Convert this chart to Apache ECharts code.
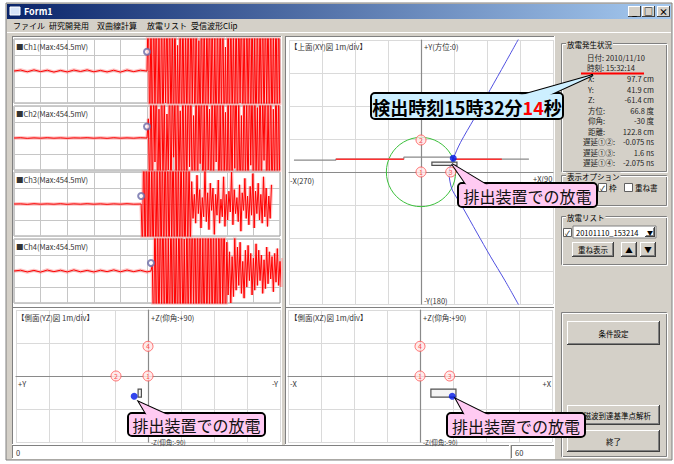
<!DOCTYPE html>
<html>
<head>
<meta charset="utf-8">
<title>Form1</title>
<script src="https://cdn.jsdelivr.net/npm/echarts@6.0.0/dist/echarts.min.js"></script>
<style>
html,body{margin:0;padding:0;background:#ffffff;}
#chart{width:674px;height:464px;}
</style>
</head>
<body>
<div id="chart"></div>
<script>
// ---------- received waveforms (mV) ----------
const channelNames = ['Ch1', 'Ch2', 'Ch3', 'Ch4'];
const channelMaxMv = [454.5, 454.5, 454.5, 454.5];
const triggerTimes = [500, 500, 478, 515];
const triggerMarkMv = [120, 72, 50, 50];
const preStep = 25;
const postStep = 5;

const pre1 = [0, 6, -5, 7, -4, 5, -7, 4, -6, 6, -3, 7, -5, 4, -6, 5, -7, 6, -4, 5];
const pre2 = [0, 2, -2, 1, -1, 2, -1, 1, -2, 1, 0, 2, -1, 1, -2, 2, -1, 1, -1, 2];
const pre3 = [0, 1, -2, 2, -1, 1, -1, 2, -2, 1, -1, 2, -1, 1, -2, 1, -1, 2, -1];
const pre4 = [0, 5, -6, 4, -7, 6, -4, 5, -6, 7, -5, 4, -6, 5, -4, 7, -5, 6, -4, 5, -6];

const post1 = [0, 460, -450, 380, -470, 450, -300, 470, -460, 250, -440, 460, -470, 350, -200, 450, -460, 470, -380, 300, -460,
  450, -470, 160, -420, 470, -450, 430, -460, 280, -350, 460, -470, 450, -220, 380, -460, 470, -440, 190, -400,
  460, -470, 420, -460, 330, -250, 470, -450, 460, -380, 210, -470, 450, -460, 390, -300, 470, -440, 150, -460,
  460, -470, 440, -330, 260, -450, 470, -460, 400, -200, 470, -450, 350, -470, 460, -280, 420, -460, 470, -390,
  230, -450, 460, -470, 380, -320, 470, -440, 460, -250, 410, -470, 450, -460, 300, -380, 470, -450, 460, -420];
const post2 = [0, 120, -380, 450, -460, 300, -150, 420, -450, 180, -360, 460, -300, 250, -440, 150, -200, 430, -460, 380, -120,
  280, -450, 460, -250, 170, -400, 450, -460, 220, -300, 460, -180, 390, -450, 140, -260, 470, -440, 330, -160,
  420, -460, 260, -380, 450, -200, 180, -470, 460, -340, 300, -150, 440, -460, 230, -410, 470, -270, 160, -450,
  380, -460, 210, -330, 470, -190, 450, -440, 280, -380, 140, -460, 470, -310, 240, -420, 460, -170, 350, -460,
  440, -260, 190, -450, 470, -380, 300, -140, 460, -450, 250, -360, 420, -470, 180, -300, 460, -440, 330, -460];
const post3 = [0, -300, 450, -460, 470, -450, 460, -470, 380, -460, 470, -440, 300, -470, 460, -450, 420, -460, 470, -350, 450,
  -470, 460, -300, 440, -460, 470, -420, 360, -470, 450, -460, 280, -440, 470, -380, 300, -250,
  140, -90, 60, -120, 180, -60, 90, -150, 40, -80, 220, -110, 70, -160, 130, -40, 100, -190, 60, -70,
  150, -120, 30, -80, 170, -140, 60, -100, 80, -50, 200, -130, 90, -60, 40, -110, 120, -170, 70, -40,
  160, -90, 50, -130, 110, -70, 190, -150, 80, -60, 130, -100, 60, -120, 170, -80, 100, -140, 50, -90, 120];
const post4 = [0, 40, -460, 450, -470, 380, -440, 460, -300, 470, -450, 420, -460, 250, -470, 460, -380, 450, -470, 300, -460,
  470, -420, 460, -450, 200, -470, 440, -460, 470, -350, 460, -280, 450, -470, 390, -460, 470, -440, 260, -450,
  460, -470, 430, -320, 470, -460, 380, -450, 240, -470, 460, -400, 450, -300, 420, -460,
  180, -150, 120, -200, 90, -160, 210, -120, 150, -90, 180, -140, 60, -170, 130, -100, 160, -60, 110, -150,
  80, -120, 170, -90, 130, -60, 100, -140, 70, -110, 150, -80, 120, -50, 90, -130, 110, -70, 140, -90, 60, -100, 80, -40];

const preData = [pre1, pre2, pre3, pre4];
const postData = [post1, post2, post3, post4];

// ---------- discharge location results ----------
const detectDate = '2010/11/10';
const detectTime = '15:32:14';
const listEntry = '20101110_153214';
const infoLabels = ['X:', 'Y:', 'Z:', '方位:', '仰角:', '距離:', '遅延①②:', '遅延①③:', '遅延①④:'];
const infoValues = [97.7, 41.9, -61.4, 66.8, -30, 122.8, -0.075, 1.6, -2.075];
const infoUnits = ['cm', 'cm', 'cm', '度', '度', 'cm', 'ns', 'ns', 'ns'];

// sensor positions (m)
const sensorLabels = ['4', '3', '2', '1'];
const sensorX = [0, 0.9, 0, 0];
const sensorY = [0, 0, 0.97, 0];
const sensorZ = [0.9, 0, 0, 0];

// discharge device outline (m)
const devX = [0.33, 1.09];
const devY = [0.2, 0.3];
const devZ = [-0.64, -0.4];

// hyperbola (top view, m)
const hypX = [3.05, 2.55, 2.1, 1.6, 1.2, 0.98, 0.88, 0.85, 0.88, 0.95, 1.25, 1.7, 2.1, 2.55, 3.0];
const hypY = [4.2, 3.3, 2.5, 1.6, 0.9, 0.42, 0.15, -0.05, -0.3, -0.55, -1.05, -1.85, -2.55, -3.3, -4.1];

// edge-on hyperbola in the top view (m)
const flatGrayX = [-3.85, -2.58, -2.58, -0.52, -0.52, 0.95, 0.95, 3.27];
const flatGrayY = [0.36, 0.36, 0.39, 0.39, 0.45, 0.45, 0.39, 0.39];
const flatRedX = [-2.58, -0.52, null, 1.0, 2.45];
const flatRedY = [0.39, 0.39, null, 0.39, 0.39];

const circleRadius = 1.05;

// ---------- drawing ----------
const FONT = '"Noto Sans CJK JP","Noto Sans",sans-serif';
const F = (s, w) => (w ? w + ' ' : '') + s + 'px ' + FONT;
const G = [];

function rect(x, y, w, h, fill, stroke, lw, z, r) {
  G.push({ type: 'rect', silent: true, z: z || 0, shape: { x, y, width: w, height: h, r: r || 0 },
    style: { fill: fill || 'none', stroke: stroke || 'none', lineWidth: lw || 1 } });
}
function line(x1, y1, x2, y2, stroke, lw, z) {
  G.push({ type: 'line', silent: true, z: z || 0, shape: { x1, y1, x2, y2 }, style: { stroke, lineWidth: lw || 1 } });
}
function text(x, y, s, size, color, align, z, extra) {
  G.push({ type: 'text', silent: true, z: z == null ? 5 : z, x, y,
    style: Object.assign({ text: s, fill: color || '#000', font: F(size || 9), align: align || 'left',
      textAlign: align || 'left', verticalAlign: 'middle', textVerticalAlign: 'middle' }, extra || {}) });
}
function sunken(x, y, w, h, z) {
  line(x, y + 0.5, x + w, y + 0.5, '#808080', 1, z);
  line(x + 0.5, y, x + 0.5, y + h, '#808080', 1, z);
  line(x, y + h - 0.5, x + w, y + h - 0.5, '#ffffff', 1, z);
  line(x + w - 0.5, y, x + w - 0.5, y + h, '#ffffff', 1, z);
}
function button(x, y, w, h, label, size) {
  rect(x, y, w, h, '#d4d0c8', 'none', 1, 2);
  line(x, y + 0.5, x + w, y + 0.5, '#ffffff', 1, 3);
  line(x + 0.5, y, x + 0.5, y + h, '#ffffff', 1, 3);
  line(x, y + h - 0.5, x + w, y + h - 0.5, '#404040', 1, 3);
  line(x + w - 0.5, y, x + w - 0.5, y + h, '#404040', 1, 3);
  line(x + 1, y + h - 1.5, x + w - 1, y + h - 1.5, '#808080', 1, 3);
  line(x + w - 1.5, y + 1, x + w - 1.5, y + h - 1, '#808080', 1, 3);
  text(x + w / 2, y + h / 2, label, size || 7.5, '#000', 'center', 4);
}
function groupBox(x, y, w, h, title) {
  rect(x + 0.5, y + 0.5, w, h, 'none', '#808080', 1, 1);
  rect(x + 1.5, y + 1.5, w, h, 'none', '#ffffff', 1, 1);
  text(x + 5, y + 1, title, 7.5, '#000', 'left', 4, { backgroundColor: '#d4d0c8', padding: [0, 1] });
}
function checkbox(x, y, checked) {
  rect(x + 0.5, y + 0.5, 8, 8, '#ffffff', '#606060', 1, 3);
  if (checked) text(x + 4.5, y + 4.5, '✓', 7, '#000', 'center', 4);
}
function callout(bx, by, bw, bh, wedge, fill, style) {
  rect(bx, by, bw, bh, fill, '#000', 2, 40, 4);
  G.push({ type: 'polygon', silent: true, z: 41, shape: { points: wedge }, style: { fill, stroke: '#000', lineWidth: 2 } });
  rect(bx + 1.2, by + 1.2, bw - 2.4, bh - 2.4, fill, 'none', 1, 42, 3);
  G.push({ type: 'polygon', silent: true, z: 43, shape: { points: wedge }, style: { fill, stroke: 'none' } });
  G.push({ type: 'text', silent: true, z: 44, x: bx + bw / 2, y: by + bh / 2 + 0.5,
    style: Object.assign({ align: 'center', textAlign: 'center', verticalAlign: 'middle', textVerticalAlign: 'middle' }, style) });
}

// window frame
rect(6, 3, 666, 457, '#d4d0c8', '#808080', 1, -20);
rect(7, 4, 664, 15, new echarts.graphic.LinearGradient(0, 0, 1, 0,
  [{ offset: 0, color: '#0a246a' }, { offset: 1, color: '#a6caf0' }]), 'none', 1, -19);
rect(10, 7, 10, 8, '#d8e4f8', '#ffffff', 1, -18);
text(24, 11.5, 'Form1', 9, '#ffffff', 'left', -17, { font: F(9, 'bold') });
[['_', 628], ['□', 642], ['×', 657]].forEach(b => {
  rect(b[1], 6, 13, 11, '#d4d0c8', 'none', 1, -18);
  line(b[1], 6.5, b[1] + 13, 6.5, '#ffffff', 1, -17);
  line(b[1] + 0.5, 6, b[1] + 0.5, 17, '#ffffff', 1, -17);
  line(b[1], 16.5, b[1] + 13, 16.5, '#404040', 1, -17);
  line(b[1] + 12.5, 6, b[1] + 12.5, 17, '#404040', 1, -17);
  text(b[1] + 6.5, 11, b[0], 9, '#000', 'center', -16, { font: F(9, 'bold') });
});
// menu
[['ファイル', 13], ['研究開発用', 49], ['双曲線計算', 97], ['放電リスト', 147], ['受信波形Clip', 191]]
  .forEach(m => text(m[1], 25, m[0], 8, '#000', 'left', -16));
line(7, 32.5, 671, 32.5, '#ffffff', 1, -16);

// panel backgrounds
rect(13, 37, 268, 270, '#ffffff', 'none', 1, -10);
sunken(12, 36, 270, 272, -9);
rect(286, 37, 268, 270, '#ffffff', 'none', 1, -10);
sunken(285, 36, 270, 272, -9);
rect(13, 308, 268, 136, '#ffffff', 'none', 1, -10);
sunken(12, 307, 270, 138, -9);
rect(286, 308, 268, 136, '#ffffff', 'none', 1, -10);
sunken(285, 307, 270, 138, -9);

// status bar
rect(13, 446, 496, 12, '#ffffff', 'none', 1, -10);
sunken(12, 445, 498, 14, -9);
text(16, 452, '0', 7.5, '#333', 'left', -8);
rect(512, 446, 42, 12, '#ffffff', 'none', 1, -10);
sunken(511, 445, 44, 14, -9);
text(515, 452, '60', 7.5, '#333', 'left', -8);

// waveform panel titles
channelNames.forEach((n, i) => {
  const top = [38, 105, 171, 238][i];
  text(16, top + 8, '■' + n + '(Max:' + channelMaxMv[i] + 'mV)', 7.5, '#333', 'left', 6);
});

// plot titles and axis captions
text(290, 46, '【上面(XY)図 1m/div】', 7.5, '#333', 'left', 6);
text(424, 46, '+Y(方位:0)', 7.5, '#333', 'left', 6);
text(290, 180, '-X(270)', 7.5, '#333', 'left', 6);
text(533, 178.5, '+X(90)', 7.5, '#333', 'left', 6, { width: 22, overflow: 'truncate', ellipsis: '' });
text(424, 300, '-Y(180)', 7.5, '#333', 'left', 6);
text(17, 317, '【側面(YZ)図 1m/div】', 7.5, '#333', 'left', 6);
text(151, 317, '+Z(仰角:+90)', 7.5, '#333', 'left', 6);
text(18, 383, '+Y', 7.5, '#333', 'left', 6);
text(278, 383, '-Y', 7.5, '#333', 'right', 6);
text(151, 442, '-Z(仰角:-90)', 6.5, '#333', 'left', 6);
text(290, 317, '【側面(XZ)図 1m/div】', 7.5, '#333', 'left', 6);
text(423, 317, '+Z(仰角:+90)', 7.5, '#333', 'left', 6);
text(290, 383, '-X', 7.5, '#333', 'left', 6);
text(551, 383, '+X', 7.5, '#333', 'right', 6);
text(423, 442, '-Z(仰角:-90)', 6.5, '#333', 'left', 6);

// right column: result group
groupBox(561, 43, 105, 128, '放電発生状況');
text(587, 57, '日付: ' + detectDate, 7.5, '#222', 'left', 5);
text(587, 67, '時刻: ' + detectTime, 7.5, '#222', 'left', 5);
line(581, 73.5, 644, 73.5, '#ff0000', 2.2, 6);
infoLabels.forEach((lab, k) => {
  const y = 78.5 + k * 10.5;
  text(k < 6 ? 588 : 583, y, lab, 7.5, '#222', 'left', 5);
  text(654, y, infoValues[k] + ' ' + infoUnits[k], 7.5, '#222', 'right', 5);
});
// display options
groupBox(561, 175, 105, 30, '表示オプション');
checkbox(598, 183, true);
text(609, 187.5, '枠', 7.5, '#000', 'left', 5);
checkbox(624, 183, false);
text(635, 187.5, '重ね書', 7.5, '#000', 'left', 5);
// discharge list
groupBox(561, 216, 105, 48, '放電リスト');
checkbox(563, 228, true);
rect(573, 226, 83, 12, '#ffffff', '#808080', 1, 3);
text(576, 232, listEntry, 7.5, '#000', 'left', 4);
button(645, 227, 10, 10, '▼', 6);
button(572, 242, 42, 15, '重ね表示');
button(621, 242, 16, 15, '▲');
button(640, 242, 16, 15, '▼');
// action buttons
rect(561.5, 312.5, 105, 144, 'none', '#808080', 1, 1);
rect(562.5, 313.5, 105, 144, 'none', '#ffffff', 1, 1);
button(567, 321, 93, 24, '条件設定');
button(567, 405, 93, 20, '電磁波到達基準点解析');
button(567, 430, 93, 22, '終了');

// callouts
const [hh, mm, ss] = detectTime.split(':');
callout(371, 93, 192, 26, [[515, 97], [593, 75], [545, 97]], '#cdefff', {
  text: '{a|検出時刻' + (+hh) + '時' + (+mm) + '分}{r|' + ss + '}{a|秒}',
  rich: { a: { fill: '#000', color: '#000', font: F(18, 'bold') }, r: { fill: '#ff0000', color: '#ff0000', font: F(18, 'bold') } }
});
const pinkStyle = { text: '排出装置での放電', fill: '#111', font: F(16), lineHeight: 16 };
callout(458, 183, 139, 24, [[468, 187], [452, 164], [490, 187]], '#ffcaf2', pinkStyle);
callout(128, 413, 137, 23, [[148, 417], [139, 402], [172, 417]], '#ffcaf2', pinkStyle);
callout(447, 413, 138, 24, [[466, 417], [456, 399], [492, 417]], '#ffcaf2', pinkStyle);

// ---------- grids and axes ----------
const waveTops = [39, 106, 172, 239];
const grids = waveTops.map(t => ({ left: 14, top: t, width: 266, height: 64, show: true, backgroundColor: '#ffffff', borderColor: '#9a9a9a', borderWidth: 1 }));
grids.push({ left: 289, top: 40, width: 264, height: 264 });
grids.push({ left: 16, top: 310, width: 264, height: 132 });
grids.push({ left: 288, top: 310, width: 264, height: 132 });

const hidden = { axisTick: { show: false }, axisLabel: { show: false } };
const xAxes = [], yAxes = [];
for (let i = 0; i < 4; i++) {
  xAxes.push(Object.assign({ gridIndex: i, type: 'value', min: 0, max: 1000, interval: 100, axisLine: { show: false },
    splitLine: { show: true, lineStyle: { color: '#c6c6c6', width: 1 } } }, hidden));
  yAxes.push(Object.assign({ gridIndex: i, type: 'value', min: -200, max: 200, interval: 100, axisLine: { show: false },
    splitLine: { show: true, lineStyle: { color: '#c6c6c6', width: 1 } } }, hidden));
}
function plotAxis(gi, lo, hi, inverse) {
  return Object.assign({ gridIndex: gi, type: 'value', min: lo, max: hi, interval: 1, inverse: !!inverse,
    axisLine: { show: true, onZero: true, lineStyle: { color: '#8a8a8a', width: 1.2 } },
    splitLine: { show: true, lineStyle: { color: '#dadada', width: 1 } } }, hidden);
}
xAxes.push(plotAxis(4, -4, 4)); yAxes.push(plotAxis(4, -4, 4));
xAxes.push(plotAxis(5, -4, 4, true)); yAxes.push(plotAxis(5, -2, 2));
xAxes.push(plotAxis(6, -4, 4)); yAxes.push(plotAxis(6, -2, 2));

// ---------- series ----------
const series = [];
channelNames.forEach((n, i) => {
  const data = [];
  preData[i].forEach((v, k) => data.push([k * preStep, v]));
  postData[i].forEach((v, k) => data.push([triggerTimes[i] + k * postStep, v]));
  series.push({ type: 'line', xAxisIndex: i, yAxisIndex: i, data, showSymbol: false, silent: true, z: 2,
    lineStyle: { color: 'rgba(255,140,140,0.5)', width: 3.5 } });
  series.push({ type: 'line', xAxisIndex: i, yAxisIndex: i, data, showSymbol: false, silent: true, z: 3,
    lineStyle: { color: '#ff0000', width: 1 } });
  series.push({ type: 'scatter', xAxisIndex: i, yAxisIndex: i, data: [[triggerTimes[i], triggerMarkMv[i]]], silent: true, z: 4,
    symbol: 'emptyCircle', symbolSize: 6, itemStyle: { color: '#6a6aa8', borderWidth: 1 } });
});

const src = [infoValues[0] / 100, infoValues[1] / 100, infoValues[2] / 100];

function boxSeries(ai, a0, a1, b0, b1) {
  return { type: 'custom', xAxisIndex: ai, yAxisIndex: ai, silent: true, z: 5, data: [[a0, b0, a1, b1]],
    renderItem: (p, api) => {
      const p1 = api.coord([api.value(0), api.value(1)]);
      const p2 = api.coord([api.value(2), api.value(3)]);
      return { type: 'rect', shape: { x: Math.min(p1[0], p2[0]), y: Math.min(p1[1], p2[1]),
        width: Math.abs(p2[0] - p1[0]), height: Math.abs(p2[1] - p1[1]) },
        style: { fill: '#f4f4f4', stroke: '#505050', lineWidth: 1.2 } };
    } };
}
// sensors that fall on the origin of a view are hidden behind sensor 1
function sensorSeries(ai, hx, vy) {
  const data = sensorLabels.map((l, k) => ({ name: l, value: [hx[k], vy[k]] }))
    .filter((d, k) => sensorLabels[k] === '1' || hx[k] !== 0 || vy[k] !== 0);
  return { type: 'scatter', xAxisIndex: ai, yAxisIndex: ai, silent: true, z: 6, symbol: 'circle', symbolSize: 10,
    data,
    itemStyle: { color: '#ffe6e6', borderColor: '#ff5050', borderWidth: 1 },
    label: { show: true, position: 'inside', formatter: '{b}', fontSize: 7, color: '#ff2a2a', fontFamily: FONT } };
}
function dotSeries(ai, v) {
  return { type: 'scatter', xAxisIndex: ai, yAxisIndex: ai, silent: true, z: 8, symbol: 'circle', symbolSize: 7,
    data: [v], itemStyle: { color: '#0018e8' } };
}

// top view
series.push({ type: 'custom', xAxisIndex: 4, yAxisIndex: 4, silent: true, z: 3, data: [[0, 0, circleRadius]],
  renderItem: (p, api) => {
    const c = api.coord([api.value(0), api.value(1)]);
    const s = api.size([api.value(2), api.value(2)]);
    return { type: 'circle', shape: { cx: c[0], cy: c[1], r: s[0] }, style: { fill: 'none', stroke: '#3cc03c', lineWidth: 1 } };
  } });
series.push({ type: 'line', xAxisIndex: 4, yAxisIndex: 4, silent: true, z: 3, showSymbol: false,
  data: flatGrayX.map((x, k) => [x, flatGrayY[k]]), lineStyle: { color: '#8a8a8a', width: 1.2 } });
series.push({ type: 'line', xAxisIndex: 4, yAxisIndex: 4, silent: true, z: 4, showSymbol: false, connectNulls: false,
  data: flatRedX.map((x, k) => x == null ? [null, null] : [x, flatRedY[k]]), lineStyle: { color: '#ff3030', width: 1.5 } });
series.push({ type: 'line', xAxisIndex: 4, yAxisIndex: 4, silent: true, z: 4, showSymbol: false, smooth: 0.3,
  data: hypX.map((x, k) => [x, hypY[k]]), lineStyle: { color: '#5050e0', width: 1 } });
series.push(boxSeries(4, devX[0], devX[1], devY[0], devY[1]));
series.push(sensorSeries(4, sensorX, sensorY));
series.push(dotSeries(4, [src[0], src[1]]));
// side view (YZ)
series.push(boxSeries(5, devY[0], devY[1], devZ[0], devZ[1]));
series.push(sensorSeries(5, sensorY, sensorZ));
series.push(dotSeries(5, [src[1], src[2]]));
// side view (XZ)
series.push(boxSeries(6, devX[0], devX[1], devZ[0], devZ[1]));
series.push(sensorSeries(6, sensorX, sensorZ));
series.push(dotSeries(6, [src[0], src[2]]));

const chart = echarts.init(document.getElementById('chart'), null, { renderer: 'svg', width: 674, height: 464 });
chart.setOption({
  backgroundColor: '#ffffff',
  animation: false,
  grid: grids,
  xAxis: xAxes,
  yAxis: yAxes,
  series,
  graphic: { elements: G }
});
</script>
</body>
</html>
